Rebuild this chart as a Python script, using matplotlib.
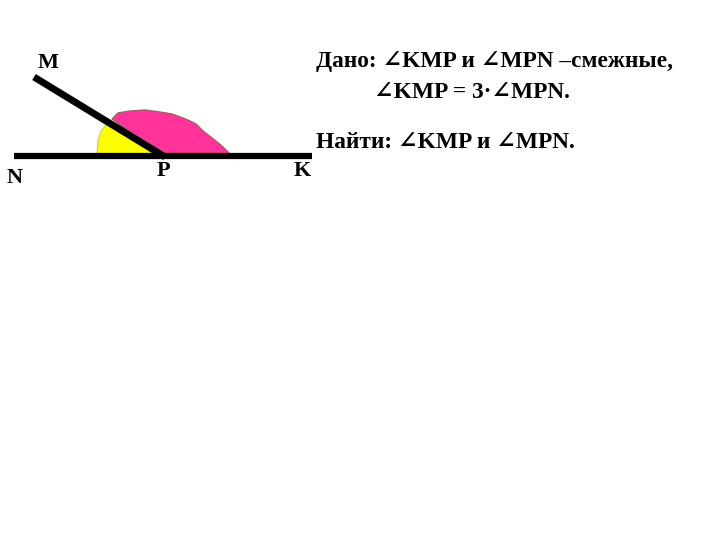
import matplotlib.pyplot as plt
from matplotlib.patches import Polygon

# diagram geometry in pixel coordinates (y grows downward)
line_nk_x = [14, 312]
line_nk_y = [156, 156]
line_mp_x = [34, 165]
line_mp_y = [77, 157]

yellow_x = [97, 98, 101, 106, 112, 163]
yellow_y = [155, 140, 131, 125, 122, 156]
pink_x = [112, 118, 130, 145, 160, 172, 183, 190, 196, 203, 212, 222, 229, 229, 163]
pink_y = [119, 113, 111, 110, 112, 114, 118, 121, 124, 131, 138, 146, 153, 156, 156]

labels = ['M', 'N', 'P', 'K']
label_x = [48, 15, 163, 302]
label_y = [63, 178, 171, 171]

given_1 = 'Дано: ∠KMP и ∠MPN –смежные,'
given_2 = '∠KMP = 3·∠MPN.'
find = 'Найти: ∠KMP и ∠MPN.'

fonts = ['Liberation Serif', 'DejaVu Serif']

fig = plt.figure(figsize=(7.2, 5.4), dpi=100)
ax = fig.add_axes([0, 0, 1, 1])
ax.set_xlim(0, 720)
ax.set_ylim(540, 0)
ax.axis('off')

ax.add_patch(Polygon(list(zip(yellow_x, yellow_y)), closed=True,
                     facecolor='#ffff00', edgecolor='#c8c870', lw=0.8))
ax.add_patch(Polygon(list(zip(pink_x, pink_y)), closed=True,
                     facecolor='#ff3399', edgecolor='#a06060', lw=1.0))
ax.plot(line_nk_x, line_nk_y, color='black', lw=4.5, solid_capstyle='butt')
ax.plot(line_mp_x, line_mp_y, color='black', lw=5, solid_capstyle='butt')

for t, x, y in zip(labels, label_x, label_y):
    ax.text(x, y, t, ha='center', va='center', fontsize=16,
            fontweight='bold', family=fonts)

ax.text(316, 62, given_1, ha='left', va='center', fontsize=16.8,
        fontweight='bold', family=fonts)
ax.text(374, 92, given_2, ha='left', va='center', fontsize=16.8,
        fontweight='bold', family=fonts)
ax.text(316, 143, find, ha='left', va='center', fontsize=16.8,
        fontweight='bold', family=fonts)

fig.savefig('out.png', dpi=100)
